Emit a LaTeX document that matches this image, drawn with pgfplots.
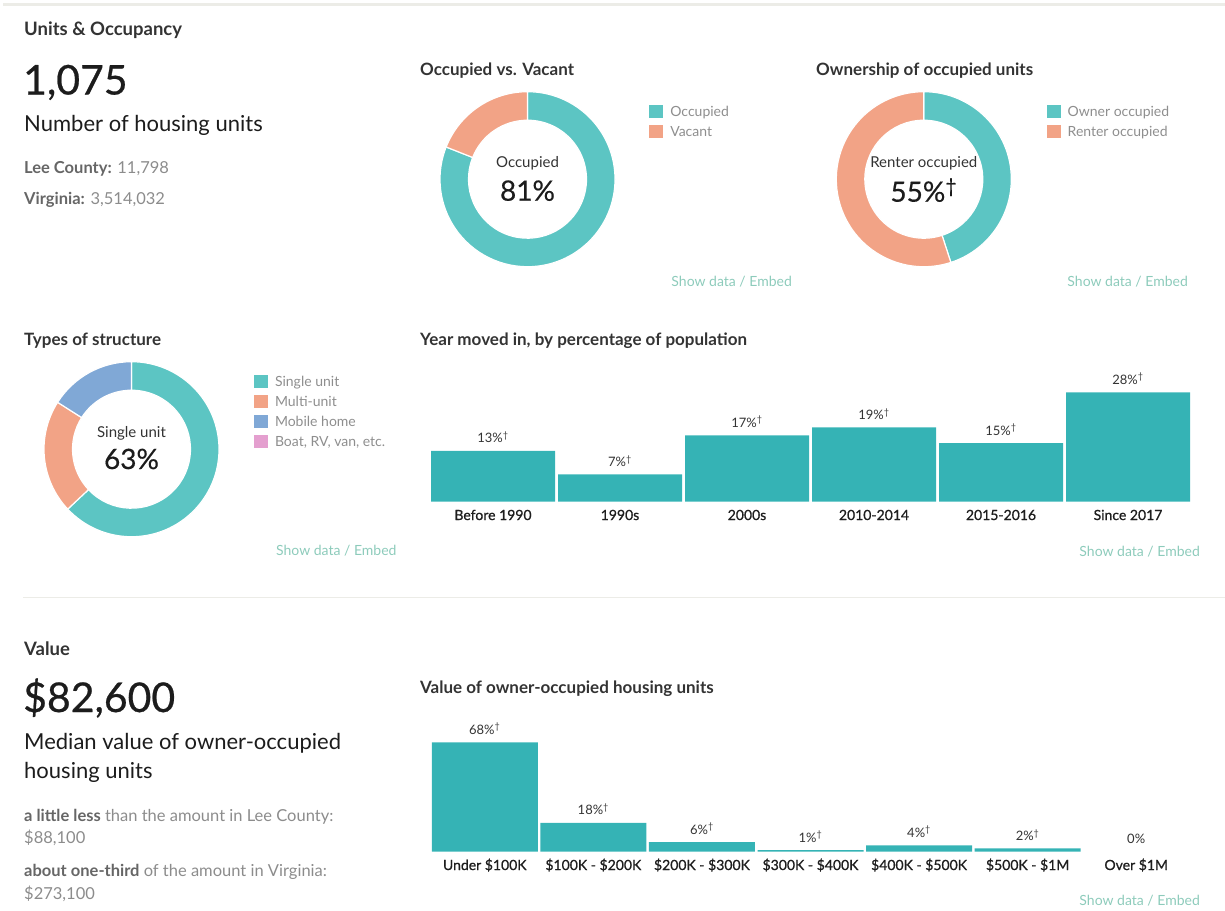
\documentclass[border=0pt]{standalone}
\usepackage{fontspec}
\setmainfont{Lato}
\usepackage{pgfplots}
\pgfplotsset{compat=1.18}

\definecolor{titlec}{HTML}{333333}
\definecolor{bignum}{HTML}{1C1C1C}
\definecolor{graydk}{HTML}{666666}
\definecolor{graylt}{HTML}{8C8C8C}
\definecolor{legtext}{HTML}{8E8E8E}
\definecolor{showc}{HTML}{8DCBBB}
\definecolor{barc}{HTML}{35B3B5}
\definecolor{dteal}{HTML}{5CC5C3}
\definecolor{dsalmon}{HTML}{F2A386}
\definecolor{dblue}{HTML}{80A8D6}
\definecolor{dpink}{HTML}{E49FCF}
\definecolor{labc}{HTML}{333333}
\definecolor{tickc}{HTML}{1E1E1E}
\definecolor{linec}{HTML}{ECECE7}

\newcommand{\fs}[1]{\fontsize{#1}{#1}\selectfont}
% donut segment: start %, end %, colour  (clockwise from top)
\newcommand{\seg}[3]{%
  \fill[#3, draw=white, line width=1.2pt]
   (axis cs:{87.5*cos(90-3.6*#1)},{87.5*sin(90-3.6*#1)})
   arc[start angle={90-3.6*#1}, end angle={90-3.6*#2}, radius=87.5]
   -- (axis cs:{59*cos(90-3.6*#2)},{59*sin(90-3.6*#2)})
   arc[start angle={90-3.6*#2}, end angle={90-3.6*#1}, radius=59] -- cycle;}

\pgfplotsset{
  donut/.style={anchor=center, width=175pt, height=175pt, scale only axis,
    xmin=-87.5, xmax=87.5, ymin=-87.5, ymax=87.5, hide axis, clip=false,
    legend cell align=left,
    legend style={draw=none, fill=none, anchor=north west, inner sep=0pt, outer sep=0pt,
      font=\fs{14}, text=legtext, row sep=7pt,
      nodes={inner sep=0pt, text height=11.5pt, text depth=1.5pt},
      /tikz/every odd column/.append style={column sep=7pt}},
    legend image code/.code={\fill[##1, draw=none] (0pt,-6.5pt) rectangle (14pt,6.5pt);}},
  barax/.style={anchor=south west, scale only axis, enlargelimits=false, ymin=0,
    clip=false, ybar, axis line style={draw=none}, major tick length=0pt,
    ytick=\empty, /pgf/number format/assume math mode=true,
    xticklabel style={font=\fs{14}\addfontfeatures{FakeBold=0.8}, text=tickc,
      anchor=base, yshift=-18.3pt, inner sep=0pt},
    every node near coord/.append style={font=\fs{13}, text=labc, anchor=base,
      yshift=8pt, inner sep=0pt}}
}

\begin{document}
\begin{tikzpicture}
\path[use as bounding box] (0pt,0pt) rectangle (1225pt,-910pt);
\fill[linec] (3pt,-2.5pt) rectangle (1225pt,-5.5pt);
\draw[linec, line width=1.2pt] (23pt,-597.5pt) -- (1225pt,-597.5pt);

% ---------- left column texts ----------
\tikzset{t/.style={anchor=base west, inner sep=0pt}}
\node[t, text=titlec, font=\fs{18.5}\bfseries] at (24pt,-35.5pt) {Units \& Occupancy};
\node[t, text=bignum, font=\fs{41}\addfontfeatures{FakeBold=0.6}] at (23pt,-94.5pt) {1,075};
\node[t, text=bignum, font=\fs{22}] at (24pt,-131.7pt) {Number of housing units};
\node[t, font=\fs{16.5}] at (24pt,-173.3pt) {\textcolor{graydk}{\bfseries Lee County:} \textcolor{graylt}{11,798}};
\node[t, font=\fs{16.5}] at (24pt,-204pt) {\textcolor{graydk}{\bfseries Virginia:} \textcolor{graylt}{3,514,032}};

\node[t, text=titlec, font=\fs{17}\bfseries] at (420pt,-75pt) {Occupied vs. Vacant};
\node[t, text=titlec, font=\fs{17}\bfseries] at (816pt,-75pt) {Ownership of occupied units};
\node[t, text=titlec, font=\fs{17}\bfseries] at (24pt,-345pt) {Types of structure};
\node[t, text=titlec, font=\fs{17}\bfseries] at (420pt,-345pt) {Year moved in, by percentage of population};
\node[t, text=titlec, font=\fs{18.5}\bfseries] at (24pt,-655pt) {Value};
\node[t, text=titlec, font=\fs{17}\bfseries] at (420pt,-693.3pt) {Value of owner-occupied housing units};

\node[t, text=bignum, font=\fs{41}\addfontfeatures{FakeBold=0.6}] at (23pt,-712pt) {\$82,600};
\node[t, text=bignum, font=\fs{22}] at (24pt,-749.3pt) {Median value of owner-occupied};
\node[t, text=bignum, font=\fs{22}] at (24pt,-778.3pt) {housing units};
\node[t, font=\fs{16.5}] at (24pt,-821.7pt) {\textcolor{graydk}{\bfseries a little less} \textcolor{graylt}{than the amount in Lee County:}};
\node[t, font=\fs{16.5}, text=graylt] at (24pt,-843.3pt) {\$88,100};
\node[t, font=\fs{16.5}] at (24pt,-876.7pt) {\textcolor{graydk}{\bfseries about one-third} \textcolor{graylt}{of the amount in Virginia:}};
\node[t, font=\fs{16.5}, text=graylt] at (24pt,-899.3pt) {\$273,100};

% show data links
\tikzset{sd/.style={anchor=base east, inner sep=0pt, text=showc, font=\fs{14}}}
\node[sd] at (792pt,-286.7pt) {Show data / Embed};
\node[sd] at (1188pt,-286.7pt) {Show data / Embed};
\node[sd] at (396.7pt,-555pt) {Show data / Embed};
\node[sd] at (1200pt,-556.7pt) {Show data / Embed};
\node[sd] at (1200pt,-905pt) {Show data / Embed};

% ---------- donut 1 ----------
\begin{axis}[donut, at={(527.5pt,-179.2pt)}, legend style={at={(1.196,0.924)}}]
\seg{0}{81}{dteal}
\seg{81}{100}{dsalmon}
\addlegendimage{fill=dteal}\addlegendentry{Occupied}
\addlegendimage{fill=dsalmon}\addlegendentry{Vacant}
\end{axis}
\node[anchor=base, inner sep=0pt, text=titlec, font=\fs{15}] at (527.5pt,-167.3pt) {Occupied};
\node[anchor=base, inner sep=0pt, text=bignum, font=\fs{28}\addfontfeatures{FakeBold=0.5}] at (527.5pt,-200.7pt) {81\%};

% ---------- donut 2 ----------
\begin{axis}[donut, at={(923.8pt,-179.2pt)}, legend style={at={(1.202,0.924)}}]
\seg{0}{45}{dteal}
\seg{45}{100}{dsalmon}
\addlegendimage{fill=dteal}\addlegendentry{Owner occupied}
\addlegendimage{fill=dsalmon}\addlegendentry{Renter occupied}
\end{axis}
\node[anchor=base, inner sep=0pt, text=titlec, font=\fs{15}] at (923.8pt,-167.3pt) {Renter occupied};
\node[anchor=base, inner sep=0pt, text=bignum, font=\fs{28}\addfontfeatures{FakeBold=0.5}] at (923.8pt,-201.7pt) {55\%\textsuperscript{†}};

% ---------- donut 3 ----------
\begin{axis}[donut, at={(131.5pt,-449.2pt)}, legend style={at={(1.2,0.924)}}]
\seg{0}{63}{dteal}
\seg{63}{84}{dsalmon}
\seg{84}{100}{dblue}
\addlegendimage{fill=dteal}\addlegendentry{Single unit}
\addlegendimage{fill=dsalmon}\addlegendentry{Multi-unit}
\addlegendimage{fill=dblue}\addlegendentry{Mobile home}
\addlegendimage{fill=dpink}\addlegendentry{Boat, RV, van, etc.}
\end{axis}
\node[anchor=base, inner sep=0pt, text=titlec, font=\fs{15}] at (131.5pt,-437.3pt) {Single unit};
\node[anchor=base, inner sep=0pt, text=bignum, font=\fs{28}\addfontfeatures{FakeBold=0.5}] at (131.5pt,-469pt) {63\%};

% ---------- year moved in ----------
\begin{axis}[barax, at={(429.5pt,-501.7pt)}, width=762pt, height=109.4pt,
  xmin=-0.5, xmax=5.5, ymax=28, bar width=124pt, xtick={0,...,5},
  xticklabels={Before 1990,1990s,2000s,2010-2014,2015-2016,Since 2017}]
\addplot[fill=barc, draw=none, bar shift=0pt,
  nodes near coords={\pgfmathprintnumber{\pgfplotspointmeta}\%\textsuperscript{†}}]
  coordinates {(0,13) (1,7) (2,17) (3,19) (4,15) (5,28)};
\end{axis}

% ---------- value of owner-occupied ----------
\begin{axis}[barax, at={(430.5pt,-851.7pt)}, width=760pt, height=109.4pt,
  xmin=-0.5, xmax=6.5, ymax=68, bar width=106pt, xtick={0,...,6},
  xticklabels={Under \$100K,\$100K - \$200K,\$200K - \$300K,\$300K - \$400K,\$400K - \$500K,\$500K - \$1M,Over \$1M}]
\addplot[fill=barc, draw=none, bar shift=0pt,
  nodes near coords={\pgfmathprintnumber{\pgfplotspointmeta}\%\textsuperscript{†}}]
  coordinates {(0,68) (1,18) (2,6) (3,1) (4,4) (5,2)};
\addplot[fill=none, draw=none, bar shift=0pt,
  nodes near coords={\pgfmathprintnumber{\pgfplotspointmeta}\%}]
  coordinates {(6,0)};
\end{axis}
\end{tikzpicture}
\end{document}
